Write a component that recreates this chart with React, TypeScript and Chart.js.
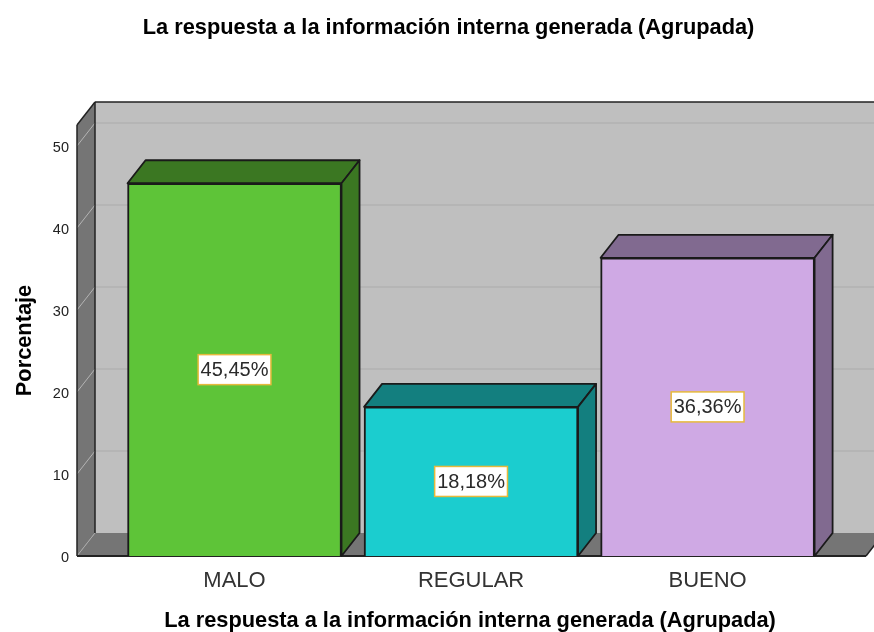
import React, { useEffect, useRef } from "react";
import { Chart, registerables } from "chart.js";

Chart.register(...registerables);

const chartTitle = "La respuesta a la información interna generada (Agrupada)";
const yTitle = "Porcentaje";
const categories = ["MALO", "REGULAR", "BUENO"];
const positions = [1, 2, 3];
const percentages = [45.45, 18.18, 36.36];
const frontColors = ["#5ec438", "#1bcdcf", "#cfa9e4"];
const sideColors = ["#3b7722", "#137f7f", "#816a90"];

const FONT = '"Liberation Sans", Arial, sans-serif';
const DX = 18;
const DY = 23;

function poly(ctx: CanvasRenderingContext2D, pts: number[][], fill: string, stroke?: string, lw = 1.8) {
  ctx.beginPath();
  pts.forEach((p, i) => (i ? ctx.lineTo(p[0], p[1]) : ctx.moveTo(p[0], p[1])));
  ctx.closePath();
  ctx.fillStyle = fill;
  ctx.fill();
  if (stroke) {
    ctx.strokeStyle = stroke;
    ctx.lineWidth = lw;
    ctx.lineJoin = "round";
    ctx.stroke();
  }
}

function line(ctx: CanvasRenderingContext2D, x0: number, y0: number, x1: number, y1: number, color: string, lw: number) {
  ctx.beginPath();
  ctx.moveTo(x0, y0);
  ctx.lineTo(x1, y1);
  ctx.strokeStyle = color;
  ctx.lineWidth = lw;
  ctx.stroke();
}

const boxPlugin = {
  id: "box3d",
  beforeDatasetsDraw(chart: any) {
    const { ctx, chartArea: a, scales } = chart;
    const y = scales.y;
    const L = a.left;
    const R = a.right + 3;
    const T = a.top;
    const B = a.bottom;
    ctx.save();
    // back wall
    poly(ctx, [[L + DX, T - DY], [R + DX, T - DY], [R + DX, B - DY], [L + DX, B - DY]], "#bfbfbf");
    // floor
    poly(ctx, [[L, B], [R, B], [R + DX, B - DY], [L + DX, B - DY]], "#757575");
    // side wall
    poly(ctx, [[L, T], [L + DX, T - DY], [L + DX, B - DY], [L, B]], "#757575");
    // grid
    y.ticks.forEach((t: any) => {
      if (t.value === 0) return;
      const py = y.getPixelForValue(t.value);
      line(ctx, L, py, L + DX, py - DY, "#b4b4b4", 1);
      line(ctx, L + DX, py - DY, R + DX, py - DY, "#b2b2b2", 1.5);
    });
    line(ctx, L, B, L + DX, B - DY, "#a8a8a8", 1);
    // frame
    line(ctx, L + DX, T - DY, R + DX, T - DY, "#222222", 1.5);
    line(ctx, L + DX, T - DY, L + DX, B - DY, "#222222", 1.5);
    line(ctx, L, T, L + DX, T - DY, "#222222", 1.5);
    line(ctx, L, T, L, B, "#222222", 1.5);
    line(ctx, R, B, R + DX, B - DY, "#222222", 1.5);
    line(ctx, L, B, R, B, "#222222", 2);
    // bar depth faces
    const meta = chart.getDatasetMeta(0);
    meta.data.forEach((bar: any, i: number) => {
      const { x, y: top, base, width } = bar.getProps(["x", "y", "base", "width"], true);
      const l = x - width / 2;
      const r = x + width / 2;
      poly(ctx, [[l, top], [r, top], [r + DX, top - DY], [l + DX, top - DY]], sideColors[i], "#1a1a1a");
      poly(ctx, [[r, top], [r + DX, top - DY], [r + DX, base - DY], [r, base]], sideColors[i], "#1a1a1a");
    });
    ctx.restore();
  },
  afterDatasetsDraw(chart: any) {
    const { ctx } = chart;
    const meta = chart.getDatasetMeta(0);
    ctx.save();
    ctx.font = `20px ${FONT}`;
    ctx.textAlign = "center";
    ctx.textBaseline = "middle";
    meta.data.forEach((bar: any, i: number) => {
      const { x, y: top, base } = bar.getProps(["x", "y", "base"], true);
      const cy = (top + base) / 2;
      const text = percentages[i].toFixed(2).replace(".", ",") + "%";
      const w = ctx.measureText(text).width + 5;
      ctx.fillStyle = "#ffffff";
      ctx.fillRect(x - w / 2, cy - 15, w, 30);
      ctx.strokeStyle = "#e6b93c";
      ctx.lineWidth = 1.5;
      ctx.strokeRect(x - w / 2, cy - 15, w, 30);
      ctx.fillStyle = "#2a2a2a";
      ctx.fillText(text, x, cy + 1);
    });
    ctx.restore();
  },
};

export default function App() {
  const ref = useRef<HTMLCanvasElement>(null);
  useEffect(() => {
    if (!ref.current) return;
    const chart = new Chart(ref.current, {
      type: "bar",
      plugins: [boxPlugin],
      data: {
        datasets: [
          {
            label: yTitle,
            data: positions.map((p, i) => ({ x: p, y: percentages[i] })),
            backgroundColor: frontColors,
            borderColor: "#1a1a1a",
            borderWidth: 2,
            barThickness: 214,
          } as any,
        ],
      },
      options: {
        responsive: false,
        animation: false,
        layout: { padding: { left: 34, right: 11, top: 0, bottom: 0 } },
        plugins: {
          legend: { display: false },
          tooltip: { enabled: false },
          title: {
            display: true,
            text: chartTitle,
            color: "#000000",
            font: { family: FONT, size: 21.8, weight: "bold" },
            padding: { top: 14.6, bottom: 84.2 },
          },
        },
        scales: {
          x: {
            type: "linear",
            offset: false,
            min: 0.334,
            max: 3.657,
            grid: { display: false, offset: false },
            border: { display: false },
            afterBuildTicks: (s: any) => {
              s.ticks = positions.map((value) => ({ value }));
            },
            afterFit: (s: any) => {
              s.height = 76;
            },
            ticks: {
              color: "#333333",
              padding: 4,
              maxRotation: 0,
              autoSkip: false,
              font: { family: FONT, size: 22 },
              callback: (v: any) => categories[Number(v) - 1] ?? "",
            },
            title: {
              display: true,
              text: chartTitle,
              color: "#000000",
              font: { family: FONT, size: 21.8, weight: "bold" },
              padding: { top: 0, bottom: -2.5 },
            },
          },
          y: {
            min: 0,
            max: 52.56,
            grid: { display: false, drawTicks: false },
            border: { display: false },
            afterFit: (s: any) => {
              s.width = 43;
            },
            ticks: {
              stepSize: 10,
              includeBounds: false,
              color: "#222222",
              padding: 8,
              labelOffset: 2,
              font: { family: FONT, size: 14.5 },
            },
            title: {
              display: true,
              text: yTitle,
              color: "#000000",
              font: { family: FONT, size: 21.8, weight: "bold" },
              padding: { top: -22.5, bottom: 0 },
            },
          },
        },
      },
    } as any);
    return () => chart.destroy();
  }, []);
  return (
    <div style={{ position: "fixed", left: 0, top: 0, width: 874, height: 632, overflow: "hidden", background: "#fff" }}>
      <canvas ref={ref} width={874} height={632} style={{ display: "block" }} />
    </div>
  );
}
